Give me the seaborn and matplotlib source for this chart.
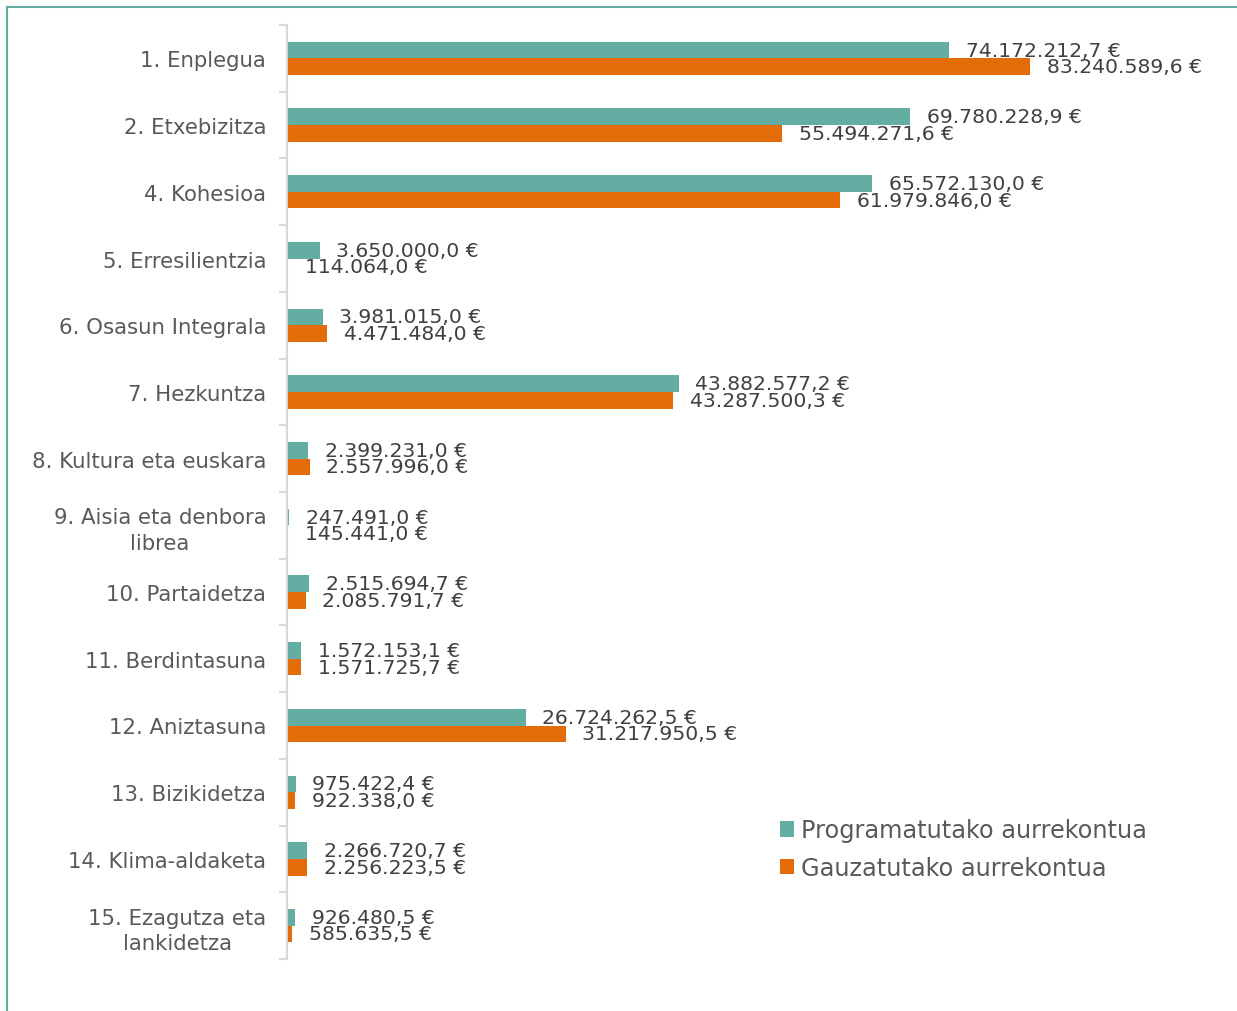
import numpy as np
import pandas as pd
import matplotlib
matplotlib.use("Agg")
import matplotlib.pyplot as plt
from matplotlib.lines import Line2D
from matplotlib.patches import Patch
import seaborn as sns

categories = ["1. Enplegua", "2. Etxebizitza", "4. Kohesioa", "5. Erresilientzia",
              "6. Osasun Integrala", "7. Hezkuntza", "8. Kultura eta euskara",
              "9. Aisia eta denbora\nlibrea", "10. Partaidetza", "11. Berdintasuna",
              "12. Aniztasuna", "13. Bizikidetza", "14. Klima-aldaketa",
              "15. Ezagutza eta\nlankidetza"]
programatua = [74172212.7, 69780228.9, 65572130.0, 3650000.0, 3981015.0, 43882577.2,
               2399231.0, 247491.0, 2515694.7, 1572153.1, 26724262.5, 975422.4,
               2266720.7, 926480.5]
gauzatua = [83240589.6, 55494271.6, 61979846.0, 114064.0, 4471484.0, 43287500.3,
            2557996.0, 145441.0, 2085791.7, 1571725.7, 31217950.5, 922338.0,
            2256223.5, 585635.5]
series = ["Programatutako aurrekontua", "Gauzatutako aurrekontua"]
colors = ["#64ADA3", "#E36C09"]

df = pd.DataFrame({
    "kategoria": categories * 2,
    "balioa": programatua + gauzatua,
    "serie": [series[0]] * len(categories) + [series[1]] * len(categories),
})

def eurofmt(v):
    s = f"{v:,.1f}"
    s = s.replace(",", "X").replace(".", ",").replace("X", ".")
    return s + " €"

fig = plt.figure(figsize=(12.37, 10.12), dpi=100)
ax = fig.add_axes([287 / 1237, 1 - 960 / 1012, 0.7216, (960 - 26) / 1012])

sns.barplot(data=df, y="kategoria", x="balioa", hue="serie", hue_order=series,
            palette=colors, orient="h", width=0.5, saturation=1, linewidth=0,
            ax=ax, legend=False)

ax.set_xlim(0, 100e6)
ax.set_ylim(len(categories) - 0.5, -0.5)
ax.set_xlabel("")
ax.set_ylabel("")
ax.set_xticks([])
for s in ["top", "right", "bottom"]:
    ax.spines[s].set_visible(False)
ax.spines["left"].set_color("#d9d9d9")
ax.spines["left"].set_linewidth(1.5)

ax.tick_params(axis="y", which="major", length=0, pad=15, labelsize=15.3, labelcolor="#595959")
ax.set_yticks(np.arange(-0.5, len(categories), 1.0), minor=True)
ax.tick_params(axis="y", which="minor", length=6, width=1.5, color="#d9d9d9")
for lab in ax.get_yticklabels():
    lab.set_multialignment("center")
    lab.set_linespacing(1.35)

for cont, vals in zip(ax.containers, [programatua, gauzatua]):
    ax.bar_label(cont, labels=[eurofmt(v) for v in vals], padding=12,
                 fontsize=14.7, color="#404040")

handles = [Patch(facecolor=c, edgecolor="none") for c in colors]
fig.legend(handles, series, loc="center left", bbox_to_anchor=(758 / 1237, 1 - 850 / 1012),
           frameon=False, fontsize=17.3, labelcolor="#595959", handlelength=0.6,
           handleheight=0.6, handletextpad=0.3, labelspacing=0.55)

# frame border
fig.add_artist(Line2D([7 / 1237, 7 / 1237], [0, 1 - 8 / 1012], color="#64ADA3", lw=1.5,
                      transform=fig.transFigure))
fig.add_artist(Line2D([7 / 1237, 1], [1 - 8 / 1012, 1 - 8 / 1012], color="#64ADA3", lw=1.5,
                      transform=fig.transFigure))

fig.savefig("out.png", dpi=100)
